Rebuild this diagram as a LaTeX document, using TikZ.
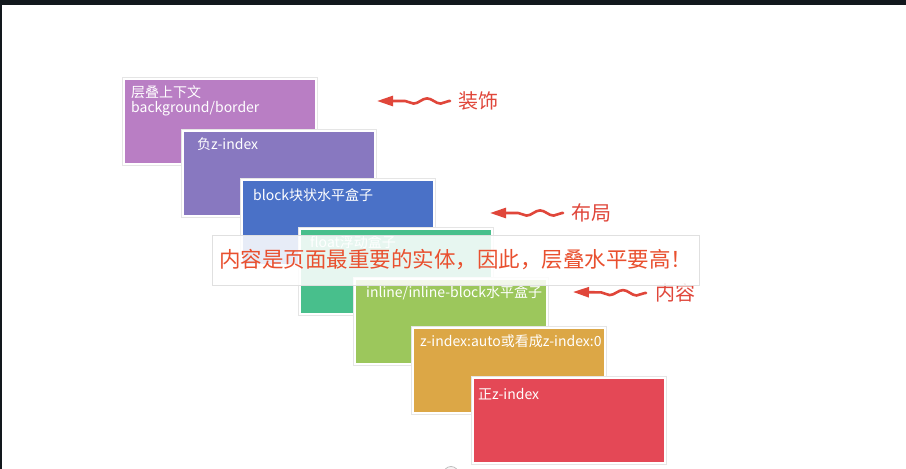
\documentclass[tikz,border=0pt]{standalone}
\usepackage{fontspec}
\newfontfamily\cjk{Noto Sans CJK SC}
\usetikzlibrary{decorations.pathmorphing,arrows.meta}
\definecolor{cpurple}{HTML}{B97EC4}
\definecolor{cviolet}{HTML}{8878C0}
\definecolor{cblue}{HTML}{4A71C7}
\definecolor{cgreen}{HTML}{48BF8C}
\definecolor{clgreen}{HTML}{9CC75C}
\definecolor{corange}{HTML}{DCA746}
\definecolor{cred}{HTML}{E44856}
\definecolor{ctext}{HTML}{E9502F}
\definecolor{carrow}{HTML}{E0463A}
\definecolor{cdark}{HTML}{12181D}
\tikzset{
  box/.style={anchor=north west, minimum width=192pt, minimum height=85pt, inner sep=0pt,
    draw=white, line width=2pt, preaction={draw=black!10, line width=4pt}},
  lbl/.style={anchor=west, inner sep=0pt, text=white, font=\cjk\fontsize{14}{17}\selectfont},
  side/.style={anchor=west, inner sep=0pt, text=carrow, font=\cjk\fontsize{20}{24}\selectfont},
  wavy/.style={draw=carrow, line width=2.6pt, line cap=round,
    -{Triangle[length=16pt,width=10pt]},
    decorate, decoration={snake, amplitude=2.6pt, segment length=27pt, post length=16pt, pre length=1pt}},
  callout/.style={fill=white, fill opacity=0.87, text opacity=1, draw=black!12, line width=0.8pt,
    minimum width=487pt, minimum height=50pt, inner sep=0pt, text=ctext,
    font=\cjk\fontsize{21.5}{25}\selectfont}
}
\begin{document}
\begin{tikzpicture}[x=1pt,y=-1pt]
\useasboundingbox (0,0) rectangle (906,469);
\fill[white] (0,0) rectangle (906,469);
\fill[cdark] (0,0) rectangle (906,5);
\fill[cdark] (0,0) rectangle (1.5,469);
% boxes
\node[box, fill=cpurple] (b1) at (123,78) {};
\node[lbl] (l1a) at (131,92) {层叠上下文};
\node[lbl] (l1b) at (131,109) {background/border};
\node[box, fill=cviolet] (b2) at (182,130) {};
\node[lbl] (l2) at (197,144) {负z-index};
\node[box, fill=cblue] (b3) at (241,179) {};
\node[lbl] (l3) at (253,195) {block块状水平盒子};
\node[box, fill=cgreen] (b4) at (299,228) {};
\node[lbl] (l4) at (310,242) {float浮动盒子};
\node[box, fill=clgreen] (b5) at (354,278) {};
\node[lbl] (l5) at (366,293) {inline/inline-block水平盒子};
\node[box, fill=corange] (b6) at (412,327) {};
\node[lbl] (l6) at (420,341) {z-index:auto或看成z-index:0};
\node[box, fill=cred] (b7) at (472,377) {};
\node[lbl] (l7) at (478,394) {正z-index};
% side labels and arrows
\node[side] (s1) at (458,101) {装饰};
\coordinate (a1) at (377,101);
\draw[wavy] ([xshift=-8pt]s1.west) -- (a1);
\node[side] (s2) at (571,213) {布局};
\coordinate (a2) at (490,213);
\draw[wavy] ([xshift=-8pt]s2.west) -- (a2);
\node[side] (s3) at (655,293) {内容};
\coordinate (a3) at (573,292);
\draw[wavy] ([xshift=-9pt]s3.west) -- (a3);
% callout
\node[callout] (c) at (455.5,260) {内容是页面最重要的实体，因此，层叠水平要高！};
% cursor artifact
\node[circle, draw=black!25, fill=black!4, line width=0.8pt, minimum size=15pt, inner sep=0pt] (cur) at (451,474) {};
\end{tikzpicture}
\end{document}
